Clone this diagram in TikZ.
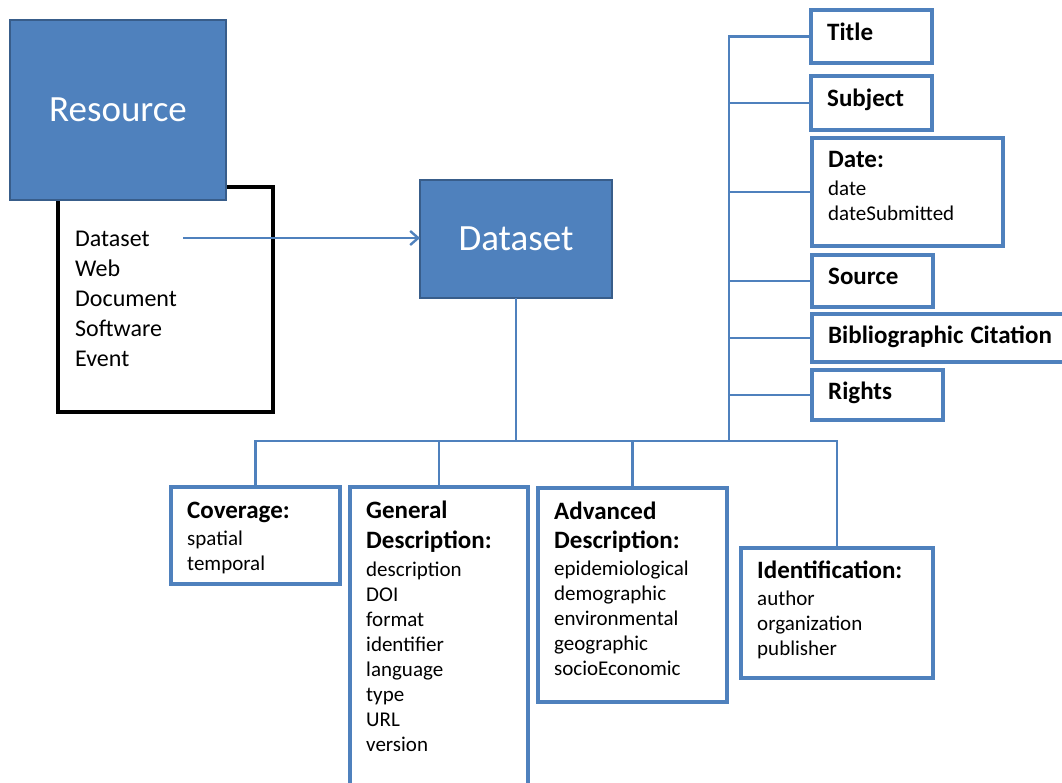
\documentclass[tikz,border=0pt]{standalone}
\usepackage{fontspec}
\setmainfont{Carlito}
\usetikzlibrary{positioning,arrows.meta}
\definecolor{boxblue}{HTML}{4F81BD}
\definecolor{boxedge}{HTML}{385D8A}
\newcommand{\hd}[1]{{\bfseries\fontsize{25}{25}\selectfont #1}}

\begin{document}
\begin{tikzpicture}[x=1pt,y=-1pt,
  block/.style={draw=boxedge,fill=boxblue,line width=2.5pt,anchor=north west,outer sep=0pt,
    inner sep=0pt,text=white,font=\fontsize{37}{40}\selectfont},
  field/.style={draw=boxblue,line width=4pt,fill=white,anchor=north west,outer sep=0pt,inner sep=0pt},
  fieldtext/.style={anchor=base west,align=left,text width=240pt,inner sep=0pt,
    xshift=16pt,yshift=-31pt,font=\fontsize{21}{25}\selectfont},
  listtext/.style={anchor=base west,align=left,text width=180pt,inner sep=0pt,
    xshift=17pt,yshift=-60pt,font=\fontsize{24}{30}\selectfont},
  wire/.style={draw=boxblue,line width=2.4pt}]
  \useasboundingbox (0,0) rectangle (1062,783);

  % resource types
  \node[draw,line width=3.5pt,anchor=north west,outer sep=0pt,inner sep=0pt,
    minimum width=215pt,minimum height=225pt,
    label={[listtext]north west:{Dataset\\Web\\Document\\Software\\Event}}] (kinds) at (58,187) {};
  \node[block,minimum width=216pt,minimum height=180pt] (res) at (10,20) {Resource};
  \node[block,minimum width=192pt,minimum height=118pt] (dset) at (420,180) {Dataset};

  % right column
  \node[field,minimum width=121pt,minimum height=53pt,
    label={[fieldtext]north west:{\hd{Title}}}] (title) at (811,10) {};
  \node[field,minimum width=121pt,minimum height=54pt,
    label={[fieldtext]north west:{\hd{Subject}}}] (subj) at (811,76) {};
  \node[field,minimum width=191pt,minimum height=108pt,
    label={[fieldtext,yshift=1pt]north west:{\hd{Date:}\\[3pt]date\\dateSubmitted}}] (date) at (812,138) {};
  \node[field,minimum width=121pt,minimum height=52pt,
    label={[fieldtext,yshift=1pt]north west:{\hd{Source}}}] (src) at (812,255) {};
  \node[field,minimum width=260pt,minimum height=48pt,
    label={[fieldtext,yshift=1pt]north west:{\hd{Bibliographic Citation}}}] (cite) at (812,314) {};
  \node[field,minimum width=131pt,minimum height=50pt,
    label={[fieldtext,yshift=2pt]north west:{\hd{Rights}}}] (rights) at (812,370) {};

  % bottom row
  \node[field,minimum width=169pt,minimum height=97pt,
    label={[fieldtext]north west:{\hd{Coverage:}\\[2pt]spatial\\temporal}}] (cov) at (171,487) {};
  \node[field,minimum width=178pt,minimum height=310pt,
    label={[fieldtext]north west:{\hd{General}\\[5pt]\hd{Description:}\\[3pt]description\\DOI\\format\\identifier\\language\\type\\URL\\version}}] (gen) at (350,487) {};
  \node[field,minimum width=189pt,minimum height=214pt,
    label={[fieldtext]north west:{\hd{Advanced}\\[4pt]\hd{Description:}\\[2pt]epidemiological\\demographic\\environmental\\geographic\\socioEconomic}}] (adv) at (538,488) {};
  \node[field,minimum width=192pt,minimum height=130pt,
    label={[fieldtext,yshift=1pt]north west:{\hd{Identification:}\\[2pt]author\\organization\\publisher}}] (idf) at (741,548) {};

  % connectors
  \coordinate (dsitem) at (183,238);
  \coordinate (hub) at (516,441);
  \coordinate (spine) at (729,441);
  \draw[wire,-{Straight Barb[length=8pt,width=14pt]}] (dsitem) -- (dsitem -| dset.west);
  \draw[wire] (dset.south) -- (hub);
  \draw[wire] (cov.north) -- (cov.north |- hub) -- (idf.north |- hub) -- (idf.north);
  \draw[wire] (gen.north) -- (gen.north |- hub);
  \draw[wire] (adv.north) -- (adv.north |- hub);
  \draw[wire] (title.west) -| (spine);
  \draw[wire] (subj.west) -- (subj.west -| spine);
  \draw[wire] (date.west) -- (date.west -| spine);
  \draw[wire] (src.west) -- (src.west -| spine);
  \draw[wire] (cite.west) -- (cite.west -| spine);
  \draw[wire] (rights.west) -- (rights.west -| spine);
\end{tikzpicture}
\end{document}
